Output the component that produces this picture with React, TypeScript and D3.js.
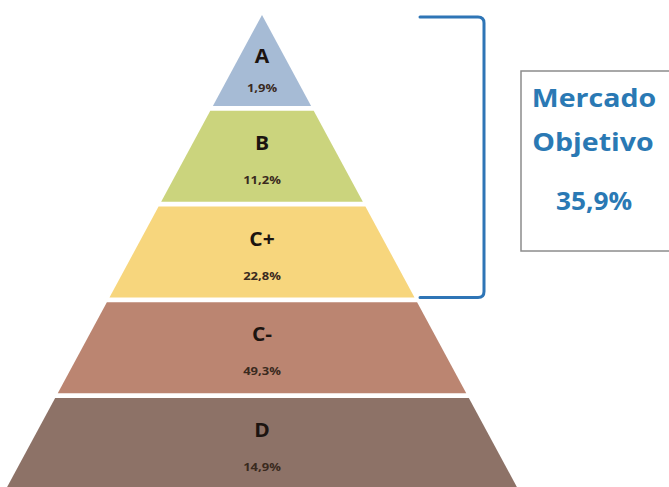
import React from "react";
import * as d3 from "d3";

const categories = ["A", "B", "C+", "C-", "D"];
const values = [1.9, 11.2, 22.8, 49.3, 14.9];
const colors = ["#a6bbd5", "#cbd47d", "#f7d67d", "#bb8571", "#8d7267"];
const targetCategories = ["A", "B", "C+"];
const targetTitle = ["Mercado", "Objetivo"];

const W = 669;
const H = 487;
const cx = 262;
const apexY = 15;
const slope = 0.54;

const fmt = (v: number) => d3.format(".1f")(v).replace(".", ",") + "%";

function WideText({ x, y, sx, children, ...rest }: any) {
  return (
    <g transform={`translate(${x},${y}) scale(${sx},1)`}>
      <text x={0} y={0} textAnchor="middle" {...rest}>
        {children}
      </text>
    </g>
  );
}

export default function App() {
  const y = d3.scaleBand<string>().domain(categories).range([apexY, 489]).paddingInner(0.05).paddingOuter(0);
  const half = d3.scaleLinear().domain([apexY, apexY + 100]).range([0, 100 * slope]);

  const target = d3.sum(values.filter((_, i) => targetCategories.includes(categories[i])));
  const tTop = y(targetCategories[0])!;
  const lastT = targetCategories[targetCategories.length - 1];
  const tBot = y(lastT)! + y.bandwidth();

  const bx0 = 420;
  const bx1 = 484;
  const r = 6;
  const bracket = d3.path();
  bracket.moveTo(bx0, tTop + 2);
  bracket.lineTo(bx1 - r, tTop + 2);
  bracket.quadraticCurveTo(bx1, tTop + 2, bx1, tTop + 2 + r);
  bracket.lineTo(bx1, tBot - r);
  bracket.quadraticCurveTo(bx1, tBot, bx1 - r, tBot);
  bracket.lineTo(bx0, tBot);

  return (
    <svg width={W} height={H} style={{ position: "absolute", left: 0, top: 0, background: "#fff" }}>
      {categories.map((c, i) => {
        const t = y(c)!;
        const b = t + y.bandwidth();
        const ht = half(t);
        const hb = half(b);
        const pts = [
          [cx - ht, t],
          [cx + ht, t],
          [cx + hb, b],
          [cx - hb, b],
        ];
        const isA = i === 0;
        const letterY = isA ? t + 48 : t + 39;
        const pctY = isA ? t + 77 : t + 73;
        return (
          <g key={c}>
            <polygon points={pts.map((p) => p.join(",")).join(" ")} fill={colors[i]} />
            <WideText
              x={cx}
              y={letterY}
              sx={1.05}
              fontFamily="'Open Sans', sans-serif"
              fontWeight={700}
              fontSize={20}
              fill="#1c1410"
            >
              {c}
            </WideText>
            <WideText
              x={cx}
              y={pctY}
              sx={1.3}
              fontFamily="'Open Sans', sans-serif"
              fontWeight={700}
              fontSize={10}
              fill="#3a2a1e"
            >
              {fmt(values[i])}
            </WideText>
          </g>
        );
      })}
      <path d={bracket.toString()} fill="none" stroke="#2e75b6" strokeWidth={3} strokeLinecap="round" />
      <rect x={521} y={71} width={170} height={180} fill="#fff" stroke="#8c8c8c" strokeWidth={1.5} />
      <g fontFamily="'Open Sans', sans-serif" fontWeight={700} fill="#2a79b4">
        <WideText x={594} y={107} sx={1.12} fontSize={25.5}>
          {targetTitle[0]}
        </WideText>
        <WideText x={593} y={151} sx={1.12} fontSize={25.5}>
          {targetTitle[1]}
        </WideText>
        <WideText x={594} y={210} sx={1.05} fontSize={25}>
          {fmt(target)}
        </WideText>
      </g>
    </svg>
  );
}
